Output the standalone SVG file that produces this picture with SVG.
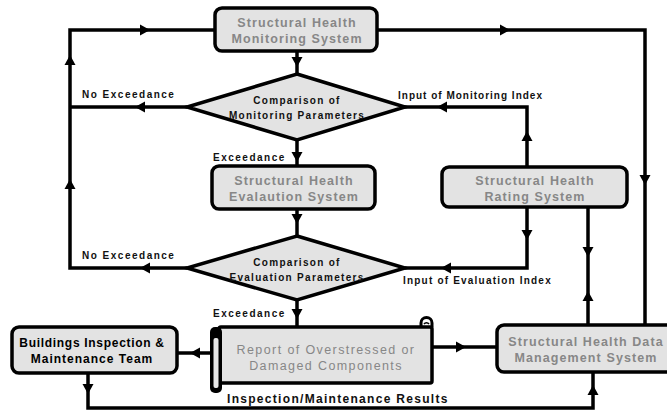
<svg xmlns="http://www.w3.org/2000/svg" xmlns:xlink="http://www.w3.org/1999/xlink" width="667" height="412" viewBox="0 0 667 412">
<style>
.box{fill:#e3e3e3;stroke:#000;stroke-width:3.5}
.bt{font-family:"Liberation Sans",Arial,sans-serif;font-weight:bold;font-size:12.5px;fill:#878787;letter-spacing:1.1px;text-anchor:middle}
.dt{font-family:"Liberation Sans",Arial,sans-serif;font-weight:bold;font-size:10px;fill:#111;letter-spacing:1.3px;text-anchor:middle}
.lb{font-family:"Liberation Sans",Arial,sans-serif;font-weight:bold;font-size:10px;fill:#111;letter-spacing:1.5px}
.ln{fill:none;stroke:#000;stroke-width:3.5}
.ah{fill:#000}
</style>
<defs>
<path id="ah" d="M5,0 L-5,-5.5 L-5,5.5 Z"/>
</defs>
<rect width="667" height="412" fill="#fff"/>
<g id="connectors">
<path class="ln" d="M187,107 H70"/>
<path class="ln" d="M187,268 H70 V30 H215"/>
<path class="ln" d="M377,30 H645 V326"/>
<path class="ln" d="M297,51 V74"/>
<path class="ln" d="M297,140 V166"/>
<path class="ln" d="M297,209 V236"/>
<path class="ln" d="M297,300 V327"/>
<path class="ln" d="M527,167 V107 H403"/>
<path class="ln" d="M527,207 V268 H405"/>
<path class="ln" d="M588,207 V326"/>
<path class="ln" d="M210,353 H177"/>
<path class="ln" d="M432,347 H497"/>
<path class="ln" d="M88,373 V408 H593 V372"/>
<g class="ah">
<use xlink:href="#ah" transform="translate(145,30)"/>
<use xlink:href="#ah" transform="translate(70,60) rotate(-90)"/>
<use xlink:href="#ah" transform="translate(70,184) rotate(-90)"/>
<use xlink:href="#ah" transform="translate(140,107) rotate(180)"/>
<use xlink:href="#ah" transform="translate(145,268) rotate(180)"/>
<use xlink:href="#ah" transform="translate(505,30)"/>
<use xlink:href="#ah" transform="translate(645,180) rotate(90)"/>
<use xlink:href="#ah" transform="translate(297,62) rotate(90)"/>
<use xlink:href="#ah" transform="translate(297,157) rotate(90)"/>
<use xlink:href="#ah" transform="translate(297,219) rotate(90)"/>
<use xlink:href="#ah" transform="translate(297,314) rotate(90)"/>
<use xlink:href="#ah" transform="translate(527,136) rotate(-90)"/>
<use xlink:href="#ah" transform="translate(442,107) rotate(180)"/>
<use xlink:href="#ah" transform="translate(527,235) rotate(90)"/>
<use xlink:href="#ah" transform="translate(446,268) rotate(180)"/>
<use xlink:href="#ah" transform="translate(588,252) rotate(90)"/>
<use xlink:href="#ah" transform="translate(588,296) rotate(-90)"/>
<use xlink:href="#ah" transform="translate(195,353) rotate(180)"/>
<use xlink:href="#ah" transform="translate(461,347)"/>
<use xlink:href="#ah" transform="translate(88,389) rotate(90)"/>
<use xlink:href="#ah" transform="translate(593,390) rotate(-90)"/>
</g>
<text class="lb" x="82" y="98">No Exceedance</text>
<text class="lb" x="82" y="259">No Exceedance</text>
<text class="lb" x="213" y="161">Exceedance</text>
<text class="lb" x="213" y="317">Exceedance</text>
<text class="lb" x="398" y="99" style="letter-spacing:1px">Input of Monitoring Index</text>
<text class="lb" x="403" y="284" style="letter-spacing:1.2px">Input of Evaluation Index</text>
<text class="lb" x="227" y="403" style="font-size:12px;letter-spacing:1.3px">Inspection/Maintenance Results</text>
</g>
<g id="monitoring">
<rect class="box" x="215" y="8" width="162" height="43" rx="7"/>
<text class="bt" x="297" y="27">Structural Health</text>
<text class="bt" x="297" y="43">Monitoring System</text>
</g>
<g id="compare-monitoring">
<polygon class="box" points="297,74 405,107 297,140 187,107"/>
<text class="dt" x="297" y="104">Comparison of</text>
<text class="dt" x="297" y="119">Monitoring Parameters</text>
</g>
<g id="evaluation">
<rect class="box" x="212" y="166" width="163" height="43" rx="7"/>
<text class="bt" x="294" y="185">Structural Health</text>
<text class="bt" x="294" y="201">Evalaution System</text>
</g>
<g id="compare-evaluation">
<polygon class="box" points="297,236 405,268 297,300 187,268"/>
<text class="dt" x="297" y="266">Comparison of</text>
<text class="dt" x="297" y="281">Evaluation Parameters</text>
</g>
<g id="rating">
<rect class="box" x="442" y="167" width="185" height="40" rx="7"/>
<text class="bt" x="535" y="185">Structural Health</text>
<text class="bt" x="535" y="201">Rating System</text>
</g>
<g id="data-management">
<rect class="box" x="497" y="325" width="185" height="47" rx="7"/>
<text class="bt" x="586" y="346">Structural Health Data</text>
<text class="bt" x="586" y="362">Management System</text>
</g>
<g id="buildings">
<rect class="box" x="12" y="327" width="165" height="46" rx="7"/>
<text class="bt" x="92" y="347" style="fill:#000;font-size:12px;letter-spacing:0.7px">Buildings Inspection &amp;</text>
<text class="bt" x="92" y="363" style="fill:#000;font-size:12px;letter-spacing:1px">Maintenance Team</text>
</g>
<g id="report">
<path d="M421,327 V323 A5.5,5.5 0 0 1 432,323 V327" fill="#fff" stroke="#000" stroke-width="3"/>
<path d="M424,324 A3,3 0 0 1 429,324" fill="none" stroke="#000" stroke-width="1.5"/>
<rect class="box" x="219" y="327" width="213" height="56" rx="2"/>
<rect x="210" y="327" width="12" height="66" rx="5" fill="#000"/>
<rect x="213.5" y="338" width="5" height="50" rx="2" fill="#e8e8e8"/>
<text class="bt" x="326" y="354" style="font-weight:normal;font-size:12.5px;letter-spacing:1.4px">Report of Overstressed or</text>
<text class="bt" x="326" y="370" style="font-weight:normal;font-size:12.5px;letter-spacing:1.4px">Damaged Components</text>
</g>
</svg>
